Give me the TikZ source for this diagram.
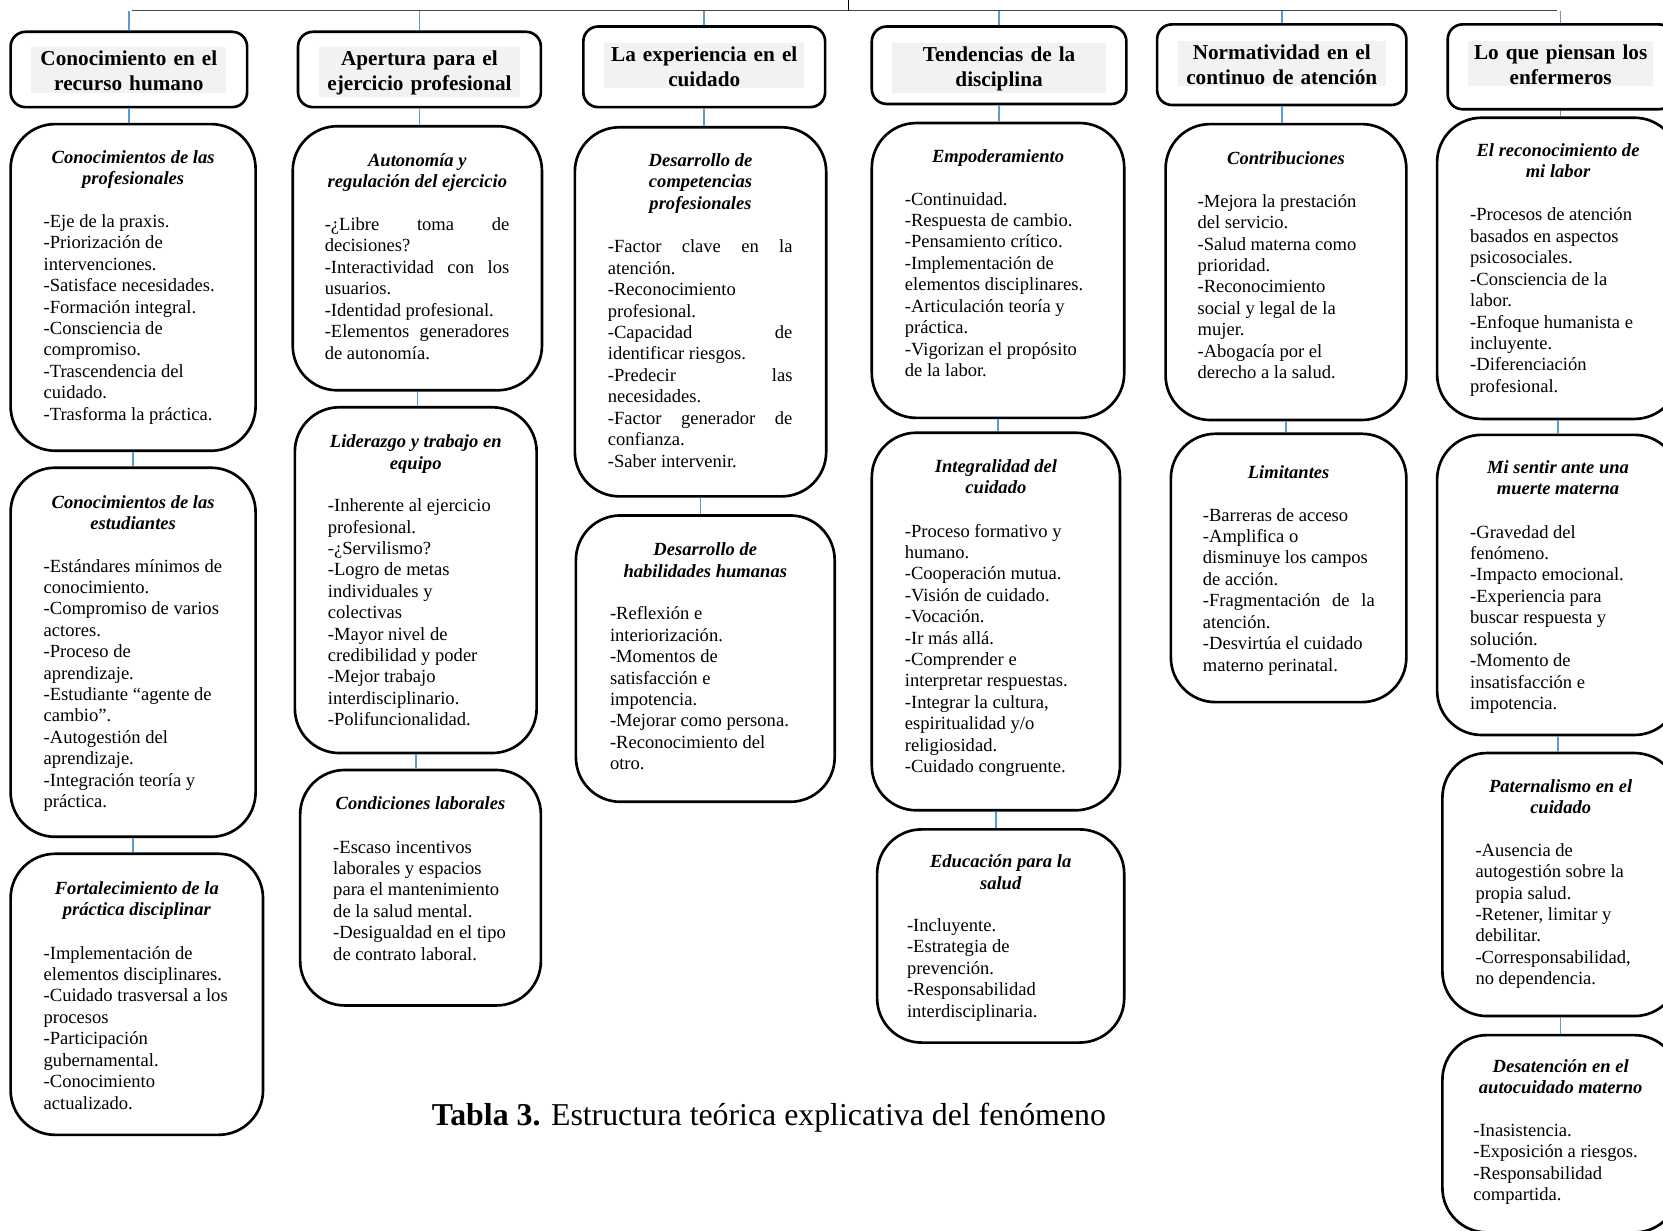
\documentclass[tikz,border=0pt]{standalone}
\usepackage{fontspec}
\setmainfont{Liberation Serif}
\definecolor{connblue}{RGB}{91,155,213}
\definecolor{hdrgray}{RGB}{242,242,242}
\definecolor{linegray}{RGB}{70,70,70}
\tikzset{
 subbox/.style={draw=black, line width=2.5pt, rounded corners=42pt, inner sep=0pt},
 hdrbox/.style={draw=black, line width=2.5pt, rounded corners=14pt, inner sep=0pt},
 conn/.style={draw=connblue, line width=1.5pt},
 topline/.style={draw=linegray, line width=1.5pt},
 ttl/.style={font=\fontsize{17.5}{20}\selectfont\bfseries\itshape, align=center, inner sep=0pt, anchor=north},
 bodytxt/.style={font=\fontsize{17.5}{20.2}\selectfont, align=left, inner sep=0pt, anchor=north west},
 hdrtxt/.style={font=\fontsize{20}{23.5}\selectfont\bfseries, align=center, inner xsep=0pt, inner ysep=1.5pt, fill=hdrgray, anchor=north},
}
\newcommand\mkbox[6]{%
 \pgfmathsetmacro\bxw{#5-#3}\pgfmathsetmacro\bxh{#6-#4}%
 \pgfmathsetmacro\bxx{(#3+#5)/2}\pgfmathsetmacro\bxy{(#4+#6)/2}%
 \node[#1, minimum width=\bxw pt, minimum height=\bxh pt] (#2) at (\bxx,\bxy) {};}
\newcommand\jl[2]{\makebox[#1pt][s]{#2}}
\begin{document}
\begin{tikzpicture}[x=1pt,y=-1pt]
\useasboundingbox (0,0) rectangle (1568,1160);
\clip (0,0) rectangle (1568,1160);
\fill[white] (0,0) rectangle (1568,1160);

% top line
\coordinate (tl) at (124,10);
\coordinate (tr) at (1468,10);
\coordinate (top) at (800,0);
\draw[topline] (tl) -- (tr);
\draw[black, line width=1.3pt] (top) -- (top |- tl);

% headers
\mkbox{hdrbox}{h1}{10}{30}{233}{101}
\mkbox{hdrbox}{h2}{281}{30}{510}{101}
\mkbox{hdrbox}{h3}{550}{25}{778}{101}
\mkbox{hdrbox}{h4}{822}{25}{1062}{98}
\mkbox{hdrbox}{h5}{1091}{23}{1326}{99}
\mkbox{hdrbox}{h6}{1365}{23}{1578}{103}

\node[hdrtxt, text width=184pt] (h1t) at (121.5,44) {\strut Conocimiento en el\\recurso humano};
\node[hdrtxt, text width=190pt] (h2t) at (395.5,44) {\strut Apertura para el\\ejercicio profesional};
\node[hdrtxt, text width=189pt] (h3t) at (664,40) {\strut La experiencia en el\\cuidado};
\node[hdrtxt, text width=201pt] (h4t) at (942,40) {\strut Tendencias de la\\disciplina};
\node[hdrtxt, text width=196pt] (h5t) at (1208.5,38) {\strut Normatividad en el\\continuo de atención};
\node[hdrtxt, text width=175pt] (h6t) at (1471.5,38) {\strut Lo que piensan los\\enfermeros};

% sub boxes
\mkbox{subbox}{b1a}{10}{117}{241}{425}
\mkbox{subbox}{b1b}{10}{441}{241}{789}
\mkbox{subbox}{b1c}{10}{805}{248}{1070}
\mkbox{subbox}{b2a}{276}{119}{511}{368}
\mkbox{subbox}{b2b}{278}{384}{506}{710}
\mkbox{subbox}{b2c}{283}{726}{510}{948}
\mkbox{subbox}{b3a}{542}{120}{779}{468}
\mkbox{subbox}{b3b}{543}{486}{787}{756}
\mkbox{subbox}{b4a}{822}{116}{1060}{394}
\mkbox{subbox}{b4b}{822}{408}{1056}{764}
\mkbox{subbox}{b4c}{827}{782}{1060}{983}
\mkbox{subbox}{b5a}{1099}{117}{1326}{396}
\mkbox{subbox}{b5b}{1104}{409}{1326}{662}
\mkbox{subbox}{b6a}{1355}{111}{1583}{395}
\mkbox{subbox}{b6b}{1355}{410}{1583}{693}
\mkbox{subbox}{b6c}{1360}{710}{1583}{958}
\mkbox{subbox}{b6d}{1360}{976}{1583}{1162}

% column 1
\node[ttl] (b1at) at (125.5,140) {\strut Conocimientos de las\\profesionales};
\node[bodytxt] (b1ab) at (41,200) {\strut-Eje de la praxis.\\-Priorización de\\intervenciones.\\-Satisface necesidades.\\-Formación integral.\\-Consciencia de\\compromiso.\\-Trascendencia del\\cuidado.\\-Trasforma la práctica.};
\node[ttl] (b1bt) at (125.5,465) {\strut Conocimientos de las\\estudiantes};
\node[bodytxt] (b1bb) at (41,525) {\strut-Estándares mínimos de\\conocimiento.\\-Compromiso de varios\\actores.\\-Proceso de\\aprendizaje.\\-Estudiante “agente de\\cambio”.\\-Autogestión del\\aprendizaje.\\-Integración teoría y\\práctica.};
\node[ttl] (b1ct) at (129,829) {\strut Fortalecimiento de la\\práctica disciplinar};
\node[bodytxt] (b1cb) at (41,890) {\strut-Implementación de\\elementos disciplinares.\\-Cuidado trasversal a los\\procesos\\-Participación\\gubernamental.\\-Conocimiento\\actualizado.};

% column 2
\node[ttl] (b2at) at (393.5,143) {\strut Autonomía y\\regulación del ejercicio};
\node[bodytxt] (b2ab) at (306,203) {\strut\jl{174}{-¿Libre toma de}\\decisiones?\\\jl{174}{-Interactividad con los}\\usuarios.\\-Identidad profesional.\\\jl{174}{-Elementos generadores}\\de autonomía.};
\node[ttl] (b2bt) at (392,408) {\strut Liderazgo y trabajo en\\equipo};
\node[bodytxt] (b2bb) at (309,468) {\strut-Inherente al ejercicio\\profesional.\\-¿Servilismo?\\-Logro de metas\\individuales y\\colectivas\\-Mayor nivel de\\credibilidad y poder\\-Mejor trabajo\\interdisciplinario.\\-Polifuncionalidad.};
\node[ttl] (b2ct) at (396.5,749) {\strut Condiciones laborales};
\node[bodytxt] (b2cb) at (314,790) {\strut-Escaso incentivos\\laborales y espacios\\para el mantenimiento\\de la salud mental.\\-Desigualdad en el tipo\\de contrato laboral.};

% column 3
\node[ttl] (b3at) at (660.5,143) {\strut Desarrollo de\\competencias\\profesionales};
\node[bodytxt] (b3ab) at (573,224) {\strut\jl{174}{-Factor clave en la}\\atención.\\-Reconocimiento\\profesional.\\\jl{174}{-Capacidad de}\\identificar riesgos.\\\jl{174}{-Predecir las}\\necesidades.\\\jl{174}{-Factor generador de}\\confianza.\\-Saber intervenir.};
\node[ttl] (b3bt) at (665,510) {\strut Desarrollo de\\habilidades humanas};
\node[bodytxt] (b3bb) at (575,570) {\strut-Reflexión e\\interiorización.\\-Momentos de\\satisfacción e\\impotencia.\\-Mejorar como persona.\\-Reconocimiento del\\otro.};

% column 4
\node[ttl] (b4at) at (941,139) {\strut Empoderamiento};
\node[bodytxt] (b4ab) at (853,179) {\strut-Continuidad.\\-Respuesta de cambio.\\-Pensamiento crítico.\\-Implementación de\\elementos disciplinares.\\-Articulación teoría y\\práctica.\\-Vigorizan el propósito\\de la labor.};
\node[ttl] (b4bt) at (939,431) {\strut Integralidad del\\cuidado};
\node[bodytxt] (b4bb) at (853,492) {\strut-Proceso formativo y\\humano.\\-Cooperación mutua.\\-Visión de cuidado.\\-Vocación.\\-Ir más allá.\\-Comprender e\\interpretar respuestas.\\-Integrar la cultura,\\espiritualidad y/o\\religiosidad.\\-Cuidado congruente.};
\node[ttl] (b4ct) at (943.5,804) {\strut Educación para la\\salud};
\node[bodytxt] (b4cb) at (855,864) {\strut-Incluyente.\\-Estrategia de\\prevención.\\-Responsabilidad\\interdisciplinaria.};

% column 5
\node[ttl] (b5at) at (1212.5,141) {\strut Contribuciones};
\node[bodytxt] (b5ab) at (1129,181) {\strut-Mejora la prestación\\del servicio.\\-Salud materna como\\prioridad.\\-Reconocimiento\\social y legal de la\\mujer.\\-Abogacía por el\\derecho a la salud.};
\node[ttl] (b5bt) at (1215,437) {\strut Limitantes};
\node[bodytxt] (b5bb) at (1134,477) {\strut-Barreras de acceso\\-Amplifica o\\disminuye los campos\\de acción.\\\jl{162}{-Fragmentación de la}\\atención.\\-Desvirtúa el cuidado\\materno perinatal.};

% column 6
\node[ttl] (b6at) at (1469,133) {\strut El reconocimiento de\\mi labor};
\node[bodytxt] (b6ab) at (1386,194) {\strut-Procesos de atención\\basados en aspectos\\psicosociales.\\-Consciencia de la\\labor.\\-Enfoque humanista e\\incluyente.\\-Diferenciación\\profesional.};
\node[ttl] (b6bt) at (1469,432) {\strut Mi sentir ante una\\muerte materna};
\node[bodytxt] (b6bb) at (1386,493) {\strut-Gravedad del\\fenómeno.\\-Impacto emocional.\\-Experiencia para\\buscar respuesta y\\solución.\\-Momento de\\insatisfacción e\\impotencia.};
\node[ttl] (b6ct) at (1471.5,733) {\strut Paternalismo en el\\cuidado};
\node[bodytxt] (b6cb) at (1391,793) {\strut-Ausencia de\\autogestión sobre la\\propia salud.\\-Retener, limitar y\\debilitar.\\-Corresponsabilidad,\\no dependencia.};
\node[ttl] (b6dt) at (1471.5,997) {\strut Desatención en el\\autocuidado materno};
\node[bodytxt] (b6db) at (1389,1057) {\strut-Inasistencia.\\-Exposición a riesgos.\\-Responsabilidad\\compartida.};

% caption
\node[font=\fontsize{30}{34}\selectfont, anchor=base, inner sep=0pt] (cap) at (725,1061) {\textbf{Tabla 3.} Estructura teórica explicativa del fenómeno};

% connectors
\foreach \n in {h1,h2,h3,h4,h5,h6}
  \draw[conn] (\n.north |- tl) -- (\n.north);
\foreach \a/\b in {h1/b1a,b1a/b1b,b1b/b1c,h2/b2a,b2a/b2b,b2b/b2c,h3/b3a,b3a/b3b,h4/b4a,b4a/b4b,b4b/b4c,h5/b5a,b5a/b5b,h6/b6a,b6a/b6b,b6b/b6c,b6c/b6d}
  \draw[conn] (\a.south) -- (\a.south |- \b.north);
\end{tikzpicture}
\end{document}
